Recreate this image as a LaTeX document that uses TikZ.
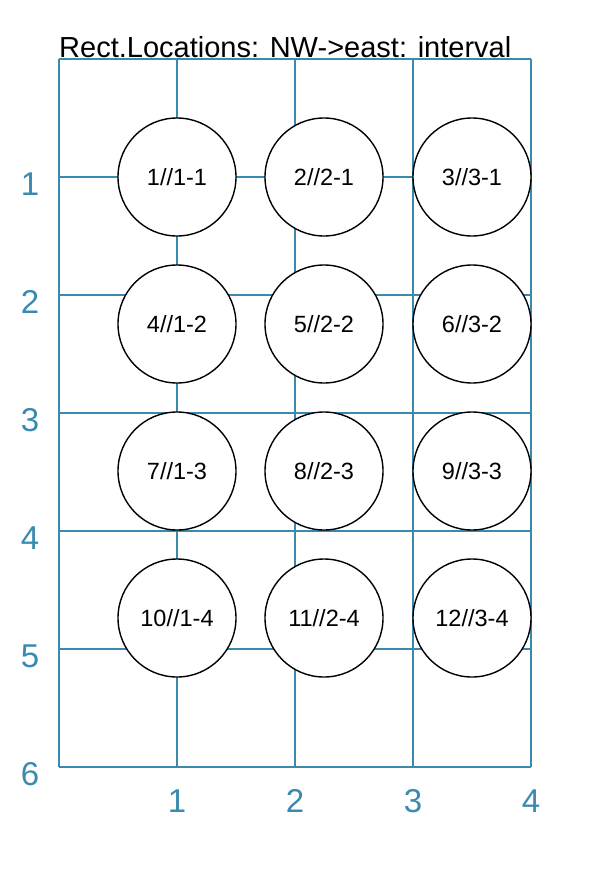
\documentclass[tikz,border=0pt]{standalone}
\usepackage{fontspec}
\setmainfont{Liberation Sans}
\usetikzlibrary{positioning}
\definecolor{gridblue}{RGB}{58,138,175}

\begin{document}
\begin{tikzpicture}[x=1pt,y=-1pt,
    gridline/.style={draw=gridblue,line width=2pt},
    axislabel/.style={text=gridblue,font=\fontsize{33}{33}\selectfont,anchor=base,inner sep=0pt},
    loc/.style={circle,draw=black,line width=1.4pt,fill=white,minimum size=118pt,inner sep=0pt,
      font=\fontsize{23.5}{23.5}\selectfont}]
      \useasboundingbox (0,0) rectangle (613,875);
      \fill[white] (0,0) rectangle (613,875);
      \node[anchor=base west,inner sep=0pt,font=\fontsize{29}{29}\selectfont] (title) at (59,58) {Rect.Locations: NW->east: interval};
      \foreach \x in {59,177,295,413,531} % vertical lines
      \draw[gridline] (\x,59) -- (\x,767);
      \foreach \y in {59,177,295,413,531,649,767} % horizontal lines
      \draw[gridline] (59,\y) -- (531,\y);
      \foreach \n/\y in {1/195,2/313,3/431,4/549,5/667,6/785}
      \node[axislabel] (row\n) at (30,\y) {\n};
      \foreach \n/\x in {1/177,2/295,3/413,4/531}
      \node[axislabel] (col\n) at (\x,812) {\n};
      \node[loc] (c1) at (177,177) {1//1-1};
      \node[loc] (c2) at (324,177) {2//2-1};
      \node[loc] (c3) at (472,177) {3//3-1};
      \node[loc] (c4) at (177,324) {4//1-2};
      \node[loc] (c5) at (324,324) {5//2-2};
      \node[loc] (c6) at (472,324) {6//3-2};
      \node[loc] (c7) at (177,471) {7//1-3};
      \node[loc] (c8) at (324,471) {8//2-3};
      \node[loc] (c9) at (472,471) {9//3-3};
      \node[loc] (c10) at (177,618) {10//1-4};
      \node[loc] (c11) at (324,618) {11//2-4};
      \node[loc] (c12) at (472,618) {12//3-4};
    \end{tikzpicture}
\end{document}
